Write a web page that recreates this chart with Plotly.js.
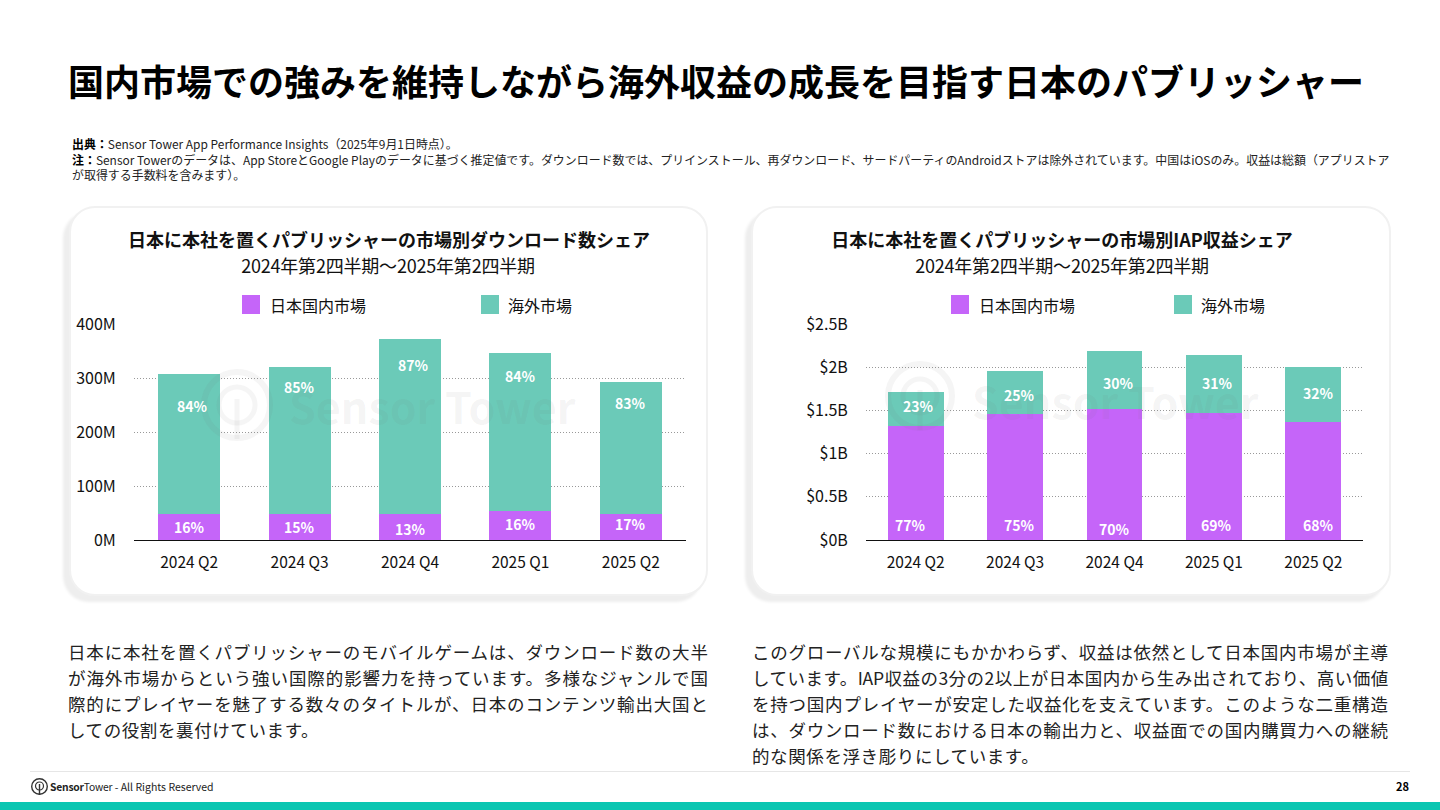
<!DOCTYPE html>
<html lang="ja"><head><meta charset="utf-8">
<script src="https://cdn.plot.ly/plotly-3.0.1.min.js"></script>
<style>
html,body{margin:0;padding:0;background:#fff;width:1440px;height:810px;overflow:hidden;font-family:"Noto Sans CJK JP","Noto Sans",sans-serif;color:#111}
.a{position:absolute;white-space:nowrap}
.card{position:absolute;top:206px;width:635px;height:386px;background:#fff;border:2px solid #f1f1f1;border-radius:26px;box-shadow:-6px 6px 3px #eeeeee}
.ct{position:absolute;text-align:center;font-weight:700;font-size:18px;line-height:24px;color:#111}
.cs{position:absolute;text-align:center;font-size:18px;line-height:24px;color:#111;letter-spacing:-.2px}
.lg{position:absolute;top:295px;width:18px;height:19px}
.lt{position:absolute;top:294px;font-size:16px;line-height:22px;color:#111}
.p{position:absolute;font-size:17.5px;line-height:26px;color:#222}
.p span{display:block;text-align:justify;text-align-last:justify;text-justify:inter-character;white-space:nowrap;letter-spacing:.1px}
.p span.e{text-align-last:left;letter-spacing:.6px}
#plot{position:absolute;left:0;top:0;width:1440px;height:810px}
</style></head><body>
<div class="a" style="left:68px;top:54px;font-size:36px;line-height:52px;font-weight:700;color:#000">国内市場での強みを維持しながら海外収益の成長を目指す日本のパブリッシャー</div>
<div class="a" style="left:72px;top:136px;font-size:11.95px;line-height:15.5px;color:#222"><b style="color:#000">出典：</b>Sensor Tower App Performance Insights（2025年9月1日時点）。<br><b style="color:#000">注：</b>Sensor Towerのデータは、App StoreとGoogle Playのデータに基づく推定値です。ダウンロード数では、プリインストール、再ダウンロード、サードパーティのAndroidストアは除外されています。中国はiOSのみ。収益は総額（アプリストア<br>が取得する手数料を含みます）。</div>
<div class="card" style="left:69px"></div>
<div class="card" style="left:751px;width:636px"></div>
<div class="ct" style="left:70px;width:638px;top:227px">日本に本社を置くパブリッシャーの市場別ダウンロード数シェア</div>
<div class="cs" style="left:69px;width:638px;top:253px">2024年第2四半期～2025年第2四半期</div>
<div class="ct" style="left:752px;width:620px;top:227px">日本に本社を置くパブリッシャーの市場別IAP収益シェア</div>
<div class="cs" style="left:752px;width:620px;top:253px">2024年第2四半期～2025年第2四半期</div>
<div class="lg" style="left:242px;background:#C565F9"></div><div class="lt" style="left:270px">日本国内市場</div>
<div class="lg" style="left:481px;background:#6BCAB8"></div><div class="lt" style="left:508px">海外市場</div>
<div class="lg" style="left:951px;background:#C565F9"></div><div class="lt" style="left:979px">日本国内市場</div>
<div class="lg" style="left:1174px;background:#6BCAB8"></div><div class="lt" style="left:1201px">海外市場</div>
<div id="plot"></div>
<div class="p" style="left:68px;top:639px;width:640px"><span>日本に本社を置くパブリッシャーのモバイルゲームは、ダウンロード数の大半</span><span>が海外市場からという強い国際的影響力を持っています。多様なジャンルで国</span><span>際的にプレイヤーを魅了する数々のタイトルが、日本のコンテンツ輸出大国と</span><span class="e">しての役割を裏付けています。</span></div>
<div class="p" style="left:752px;top:639px;width:636px"><span>このグローバルな規模にもかかわらず、収益は依然として日本国内市場が主導</span><span style="letter-spacing:-.25px">しています。IAP収益の3分の2以上が日本国内から生み出されており、高い価値</span><span>を持つ国内プレイヤーが安定した収益化を支えています。このような二重構造</span><span>は、ダウンロード数における日本の輸出力と、収益面での国内購買力への継続</span><span class="e">的な関係を浮き彫りにしています。</span></div>
<div class="a" style="left:30px;top:771px;width:1380px;height:1px;background:#e6e6e6"></div>
<svg class="a" style="left:30px;top:777px" width="19" height="19" viewBox="0 0 19 19" fill="none" stroke="#333"><circle cx="9.5" cy="9.5" r="7.8" stroke-width="1.4"/><circle cx="9.5" cy="9" r="4" stroke-width="1.2"/><path d="M9.5 7v11" stroke-width="1.4"/></svg>
<div class="a" style="left:50px;top:778px;font-size:10.3px;line-height:18px;color:#222;letter-spacing:-.2px"><b>Sensor</b>Tower<span style="font-size:10.5px;letter-spacing:0"> - All Rights Reserved</span></div>
<div class="a" style="left:1396px;top:778px;font-size:11px;line-height:17px;font-weight:700;color:#000">28</div>
<div class="a" style="left:0;top:802px;width:1440px;height:8px;background:#0AC6B2"></div>
<script>
const categories = ["2024 Q2","2024 Q3","2024 Q4","2025 Q1","2025 Q2"];
const domesticName = "日本国内市場";
const overseasName = "海外市場";
const downloadsDomestic = [49,49,49,54,49];
const downloadsOverseas = [258,272,324,292,244];
const revenueDomestic = [1.32,1.46,1.515,1.47,1.365];
const revenueOverseas = [0.39,0.495,0.675,0.67,0.635];
const downloadsDomesticPct = ["16%","15%","13%","16%","17%"];
const downloadsOverseasPct = ["84%","85%","87%","84%","83%"];
const revenueDomesticPct = ["77%","75%","70%","69%","68%"];
const revenueOverseasPct = ["23%","25%","30%","31%","32%"];
const downloadTickVals = [0,100,200,300,400];
const downloadTickText = ["0M","100M","200M","300M","400M"];
const revenueTickVals = [0,0.5,1,1.5,2,2.5];
const revenueTickText = ["$0B","$0.5B","$1B","$1.5B","$2B","$2.5B"];
// where each percentage label sits on the value axis
const downloadsDomesticLabelAt = [24,24,20,30,30];
const downloadsOverseasLabelAt = [248,284,324,304,254];
const revenueDomesticLabelAt = [0.17,0.17,0.13,0.17,0.17];
const revenueOverseasLabelAt = [1.55,1.68,1.82,1.82,1.70];
const revenueDomesticShift = [-5,4,0,3,5];
const revenueOverseasShift = [3,4,4,4,5];
const downloadsOverseasShift = [3,0,3,0,0];

const PURPLE="#C565F9", TEAL="#6BCAB8", FONT='"Noto Sans CJK JP","Noto Sans",sans-serif';
const W=1440,H=810, px=v=>v/W, py=v=>1-v/H;
const bar=(name,y,color,xa,ya)=>({type:"bar",name,x:categories,y,xaxis:xa,yaxis:ya,
  marker:{color,line:{width:0}},hoverinfo:"x+y+name",showlegend:false});
const traces=[
 bar(domesticName,downloadsDomestic,PURPLE,"x","y"),
 bar(overseasName,downloadsOverseas,TEAL,"x","y"),
 bar(domesticName,revenueDomestic,PURPLE,"x2","y2"),
 bar(overseasName,revenueOverseas,TEAL,"x2","y2")
];
const lab=(texts,ys,xref,yref,shift)=>texts.map((t,i)=>({text:t,x:categories[i],y:ys[i],xref,yref,
  xshift:shift?shift[i]:0,showarrow:false,font:{family:FONT,size:14,color:"#fff",weight:700}}));
const WM="rgba(110,110,110,0.07)";
const wm=(text,x,y)=>({text,x:px(x),y:py(y),xref:"paper",yref:"paper",xanchor:"center",yanchor:"middle",showarrow:false,
  font:{family:FONT,size:43,color:WM,weight:700}});
const ring=(x,y,r,w)=>({type:"circle",xref:"paper",yref:"paper",x0:px(x-r),x1:px(x+r),y0:py(y+r),y1:py(y-r),
  line:{color:WM,width:w},layer:"above"});
const stem=(x,y)=>({type:"line",xref:"paper",yref:"paper",x0:px(x),x1:px(x),y0:py(y-6),y1:py(y+34),line:{color:WM,width:5},layer:"above"});
const xaxis=(dom)=>({domain:dom,type:"category",categoryorder:"array",categoryarray:categories,
  showgrid:false,showline:true,linecolor:"#111",linewidth:1,ticks:"outside",ticklen:8,tickcolor:"rgba(0,0,0,0)",
  tickfont:{family:FONT,size:15.5,color:"#111"},fixedrange:true});
const yaxis=(range,vals,text,anchor)=>({domain:[py(540),py(324)],range,tickvals:vals,ticktext:text,anchor,
  showgrid:true,gridcolor:"#999999",griddash:"1px,2px",gridwidth:1,zeroline:false,showline:false,
  ticks:"outside",ticklen:14,tickcolor:"rgba(0,0,0,0)",tickfont:{family:FONT,size:16,color:"#111"},fixedrange:true});
const layout={width:W,height:H,margin:{l:0,r:0,t:0,b:0},paper_bgcolor:"rgba(0,0,0,0)",plot_bgcolor:"rgba(0,0,0,0)",
 barmode:"stack",bargap:0.44,showlegend:false,
 xaxis:Object.assign(xaxis([px(134),px(686)]),{anchor:"y"}),
 yaxis:yaxis([0,400],downloadTickVals,downloadTickText,"x"),
 xaxis2:Object.assign(xaxis([px(866),px(1363)]),{anchor:"y2"}),
 yaxis2:yaxis([0,2.5],revenueTickVals,revenueTickText,"x2"),
 shapes:[ring(237,405,33,6),ring(237,405,18,5),stem(237,405),ring(920,396,32,6),ring(920,396,17,5),stem(920,396)],
 annotations:[wm("Sensor Tower",432,405),wm("Sensor Tower",1115,400),
  ...lab(downloadsDomesticPct,downloadsDomesticLabelAt,"x","y"),
  ...lab(downloadsOverseasPct,downloadsOverseasLabelAt,"x","y",downloadsOverseasShift),
  ...lab(revenueDomesticPct,revenueDomesticLabelAt,"x2","y2",revenueDomesticShift),
  ...lab(revenueOverseasPct,revenueOverseasLabelAt,"x2","y2",revenueOverseasShift)]
};
Plotly.newPlot("plot",traces,layout,{displayModeBar:false,staticPlot:true});
</script>
</body></html>
